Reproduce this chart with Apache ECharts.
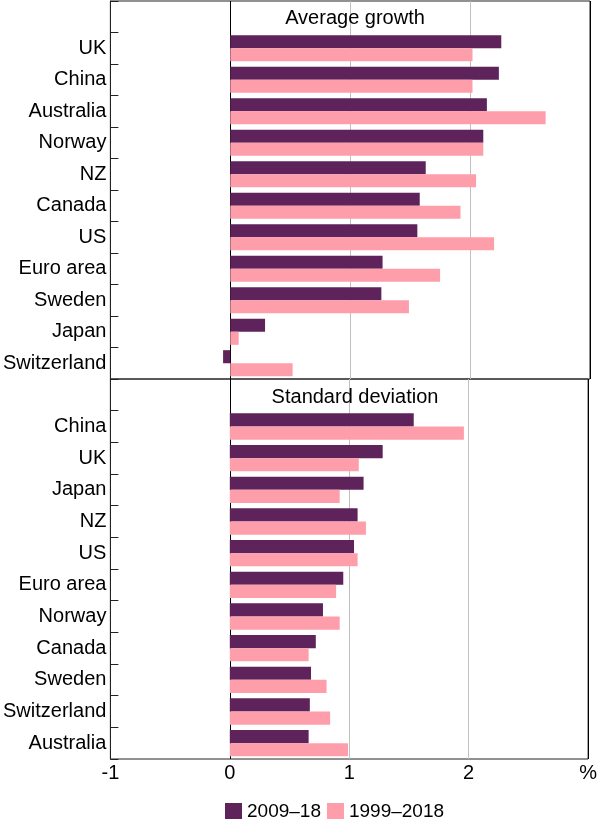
<!DOCTYPE html>
<html>
<head>
<meta charset="utf-8">
<script src="https://cdn.jsdelivr.net/npm/echarts@6/dist/echarts.min.js"></script>
<style>html,body{margin:0;padding:0;background:#fff}#c{width:600px;height:819px}</style>
</head>
<body>
<div id="c"></div>
<script>
const seriesNames = ['2009–18', '1999–2018'];
const growthCats = ['', 'UK', 'China', 'Australia', 'Norway', 'NZ', 'Canada', 'US', 'Euro area', 'Sweden', 'Japan', 'Switzerland'];
const growthRecent = [null, 2.26, 2.24, 2.14, 2.11, 1.63, 1.58, 1.56, 1.27, 1.26, 0.29, -0.06];
const growthLong = [null, 2.02, 2.02, 2.63, 2.11, 2.05, 1.92, 2.20, 1.75, 1.49, 0.07, 0.52];
const sdCats = ['', 'China', 'UK', 'Japan', 'NZ', 'US', 'Euro area', 'Norway', 'Canada', 'Sweden', 'Switzerland', 'Australia'];
const sdRecent = [null, 1.54, 1.28, 1.12, 1.07, 1.04, 0.95, 0.78, 0.72, 0.68, 0.67, 0.66];
const sdLong = [null, 1.96, 1.08, 0.92, 1.14, 1.07, 0.89, 0.92, 0.66, 0.81, 0.84, 0.99];
const panelTitles = ['Average growth', 'Standard deviation'];
const xMin = -1, xMax = 3, xStep = 1;

const colors = ['#5e235a', '#ff9eab'];
const FONT = 'Liberation Sans, Arial, sans-serif';

function xAxis(gi, showLabels) {
  return {
    type: 'value', gridIndex: gi, min: xMin, max: xMax, interval: xStep,
    axisLine: {show: false}, axisTick: {show: false},
    axisLabel: {show: showLabels, color: '#000', fontSize: 20, fontFamily: FONT, margin: 4,
      formatter: v => v === xMax ? '%' : String(v)},
    splitLine: {show: true, lineStyle: {color: ['#000', '#000', '#c0c0c0', '#c0c0c0', '#000'], width: 1}}
  };
}
function yAxis(gi, cats) {
  return {
    type: 'category', gridIndex: gi, data: cats, inverse: true,
    axisLine: {show: true, onZero: false, lineStyle: {color: '#222'}},
    axisTick: {show: true, inside: true, length: 8, lineStyle: {color: '#222'}},
    axisLabel: {color: '#000', fontSize: 20, fontFamily: FONT, margin: 4}
  };
}
function bar(name, data, idx, ci) {
  return {
    name: name, type: 'bar', data: data, xAxisIndex: idx, yAxisIndex: idx,
    barGap: '0%', barCategoryGap: '17%',
    itemStyle: {color: colors[ci]}, animation: false
  };
}

const chart = echarts.init(document.getElementById('c'), null, {renderer: 'canvas'});
chart.setOption({
  animation: false,
  title: [
    {text: panelTitles[0], left: 350, textAlign: 'center', top: 3, textStyle: {fontSize: 20, fontWeight: 'normal', color: '#000', fontFamily: FONT}},
    {text: panelTitles[1], left: 350, textAlign: 'center', top: 382, textStyle: {fontSize: 20, fontWeight: 'normal', color: '#000', fontFamily: FONT}}
  ],
  legend: {
    data: seriesNames, left: 220, top: 797, itemWidth: 17, itemHeight: 17, itemGap: 6,
    icon: 'rect', textStyle: {fontSize: 19, color: '#000', fontFamily: FONT}
  },
  grid: [
    {left: 110, right: 10, top: 1, height: 378, show: true, borderColor: '#222', borderWidth: 1},
    {left: 110, right: 10, top: 379, height: 380, show: true, borderColor: '#222', borderWidth: 1}
  ],
  xAxis: [xAxis(0, false), xAxis(1, true)],
  yAxis: [yAxis(0, growthCats), yAxis(1, sdCats)],
  series: [
    bar(seriesNames[0], growthRecent, 0, 0),
    bar(seriesNames[1], growthLong, 0, 1),
    bar(seriesNames[0], sdRecent, 1, 0),
    bar(seriesNames[1], sdLong, 1, 1)
  ]
});
</script>
</body>
</html>
